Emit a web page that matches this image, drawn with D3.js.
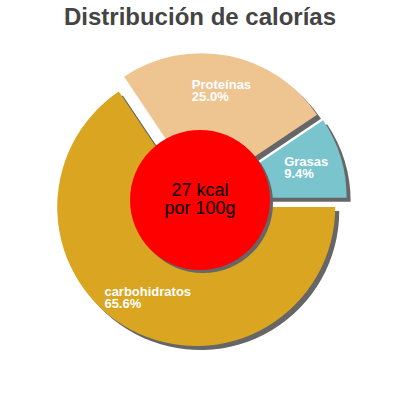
<!DOCTYPE html>
<html>
<head>
<meta charset="utf-8">
<script src="https://cdn.jsdelivr.net/npm/d3@7"></script>
<style>
  html, body { margin: 0; padding: 0; background: #fff; }
  svg { display: block; }
</style>
</head>
<body>
<svg id="chart" width="400" height="400"></svg>
<script>
const title = "Distribución de calorías";
const categories = ["Grasas", "Proteínas", "carbohidratos"];
const values = [9.4, 25.0, 65.6];
const colors = ["#7AC5CD", "#EEC591", "#DAA520"];
const centerLines = ["27 kcal", "por 100g"];

const svg = d3.select("#chart");
const cx = 200, cy = 200, R = 139, explode = 8, labelR = 103, holeR = 70;
const shadowDx = 4, shadowDy = 4, shadowColor = "#666";

svg.append("text")
  .attr("x", 200).attr("y", 25)
  .attr("text-anchor", "middle")
  .attr("font-family", "Liberation Sans, Arial, sans-serif")
  .attr("font-weight", "bold")
  .attr("font-size", 24)
  .attr("fill", "#444")
  .text(title);

const data = categories.map((c, i) => ({ name: c, value: values[i], color: colors[i] }));
const pie = d3.pie().sort(null).value(d => d.value)
  .startAngle(Math.PI / 2).endAngle(Math.PI / 2 - 2 * Math.PI);
const arcs = pie(data);
const arc = d3.arc().innerRadius(0).outerRadius(R);

const dir = a => [Math.sin(a), -Math.cos(a)];
const offset = d => {
  const m = (d.startAngle + d.endAngle) / 2;
  const [ux, uy] = dir(m);
  return [cx + ux * explode, cy + uy * explode];
};

const g = svg.append("g");
// shadows
g.selectAll("path.shadow").data(arcs).enter().append("path")
  .attr("class", "shadow")
  .attr("d", arc)
  .attr("fill", shadowColor)
  .attr("transform", d => { const [x, y] = offset(d); return `translate(${x + shadowDx},${y + shadowDy})`; });
// slices
g.selectAll("path.slice").data(arcs).enter().append("path")
  .attr("class", "slice")
  .attr("d", arc)
  .attr("fill", d => d.data.color)
  .attr("transform", d => { const [x, y] = offset(d); return `translate(${x},${y})`; });

// labels
arcs.forEach(d => {
  const m = (d.startAngle + d.endAngle) / 2;
  const [ux, uy] = dir(m);
  const [ox, oy] = offset(d);
  const lx = ox + ux * labelR, ly = oy + uy * labelR;
  const pct = (d.value / d3.sum(values) * 100).toFixed(1) + "%";
  const t = g.append("text")
    .attr("font-family", "Liberation Sans, Arial, sans-serif")
    .attr("font-weight", "bold")
    .attr("font-size", 13)
    .attr("fill", "#fff");
  const t1 = t.append("tspan").attr("x", 0).attr("y", -2).text(d.data.name);
  const t2 = t.append("tspan").attr("x", 0).attr("y", 10).text(pct);
  const w = Math.max(t1.node().getComputedTextLength(), t2.node().getComputedTextLength());
  t.attr("transform", `translate(${lx - w / 2},${ly})`);
});

// center circle
svg.append("circle").attr("cx", cx + 3).attr("cy", cy + 3).attr("r", holeR).attr("fill", shadowColor);
svg.append("circle").attr("cx", cx).attr("cy", cy).attr("r", holeR).attr("fill", "red");
svg.append("text")
  .attr("text-anchor", "middle")
  .attr("font-family", "Liberation Sans, Arial, sans-serif")
  .attr("font-size", 18)
  .attr("fill", "#000")
  .selectAll("tspan").data(centerLines).enter().append("tspan")
  .attr("x", cx).attr("y", (d, i) => 196 + i * 18)
  .text(d => d);
</script>
</body>
</html>
